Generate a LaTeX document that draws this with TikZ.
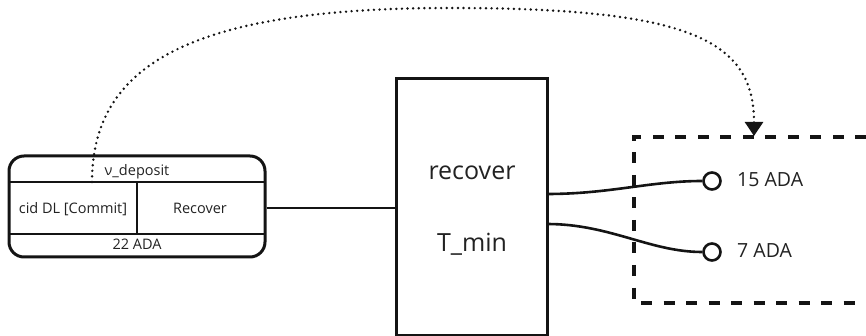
\documentclass[tikz,border=0pt]{standalone}
\usepackage{fontspec}
\setmainfont{Open Sans}
\usetikzlibrary{arrows.meta,calc}
\definecolor{ink}{HTML}{141414}
\definecolor{txt}{HTML}{222222}
\tikzset{
  boxline/.style={draw=ink, line width=3pt},
  divline/.style={draw=ink, line width=2.6pt},
  conn/.style={draw=ink, line width=2.6pt},
  smalltxt/.style={text=txt, font=\fontsize{14.5}{17}\selectfont, inner sep=0pt, anchor=base},
  bigtxt/.style={text=txt, font=\fontsize{25}{30}\selectfont, inner sep=0pt, anchor=base},
  midtxt/.style={text=txt, font=\fontsize{19.5}{23}\selectfont, inner sep=0pt, anchor=base west},
  port/.style={circle, draw=ink, line width=2.6pt, fill=white, minimum size=17pt, inner sep=0pt},
  dashbox/.style={draw=ink, line width=3.2pt, dash pattern=on 11pt off 11.5pt},
  dotlink/.style={draw=ink, line width=2.7pt, line cap=round, dash pattern=on 0pt off 5.6pt,
    -{Triangle[length=14pt,width=18pt,line cap=butt]}},
}
\begin{document}
\begin{tikzpicture}[x=1pt,y=-1pt]
\useasboundingbox (0,0) rectangle (866,336);
% left UTxO box
\node[boxline, rounded corners=15pt, minimum width=256pt, minimum height=101pt, inner sep=0pt] (utxo) at (137,206.5) {};
\coordinate (d1l) at (9,182); \coordinate (d1r) at (265,182);
\coordinate (d2l) at (9,234); \coordinate (d2r) at (265,234);
\coordinate (vt) at (137,182); \coordinate (vb) at (137,234);
\draw[divline] (d1l) -- (d1r);
\draw[divline] (d2l) -- (d2r);
\draw[divline] (vt) -- (vb);
\node[smalltxt] (val) at (137,176) {ν\_deposit};
\node[smalltxt] (dat) at (73,214) {cid DL [Commit]};
\node[smalltxt] (red) at (200,214) {Recover};
\node[smalltxt] (amt) at (137,250) {22 ADA};
% transaction box
\node[boxline, minimum width=151pt, minimum height=256pt, inner sep=0pt] (tx) at (471.5,207) {};
\node[bigtxt] (txname) at (472,180) {recover};
\node[bigtxt] (txval) at (472,252) {T\_min};
% input connector
\coordinate (in) at (396,208);
\draw[conn] (utxo.east |- in) -- (in);
% outputs region
\coordinate (rb1) at (866,137); \coordinate (rbl) at (634,137);
\coordinate (rbb) at (634,303); \coordinate (rb2) at (866,303);
\draw[dashbox] (rb1) -- (rbl) -- (rbb) -- (rb2);
\node[port] (p1) at (712,181) {};
\node[port] (p2) at (712,252) {};
\node[midtxt] (o1) at (737,187) {15 ADA};
\node[midtxt] (o2) at (737,258) {7 ADA};
\coordinate (s1) at (547,194);
\coordinate (s2) at (547,224);
\draw[conn] (s1) .. controls (610,194) and (650,181) .. (p1.west);
\draw[conn] (s2) .. controls (610,224) and (650,252) .. (p2.west);
% dotted link
\coordinate (ds) at (92,182);
\coordinate (de) at (754,136);
\draw[dotlink] (ds) .. controls (92,60) and (200,8) .. (450,8) .. controls (690,8) and (754,40) .. (de);
\end{tikzpicture}
\end{document}
